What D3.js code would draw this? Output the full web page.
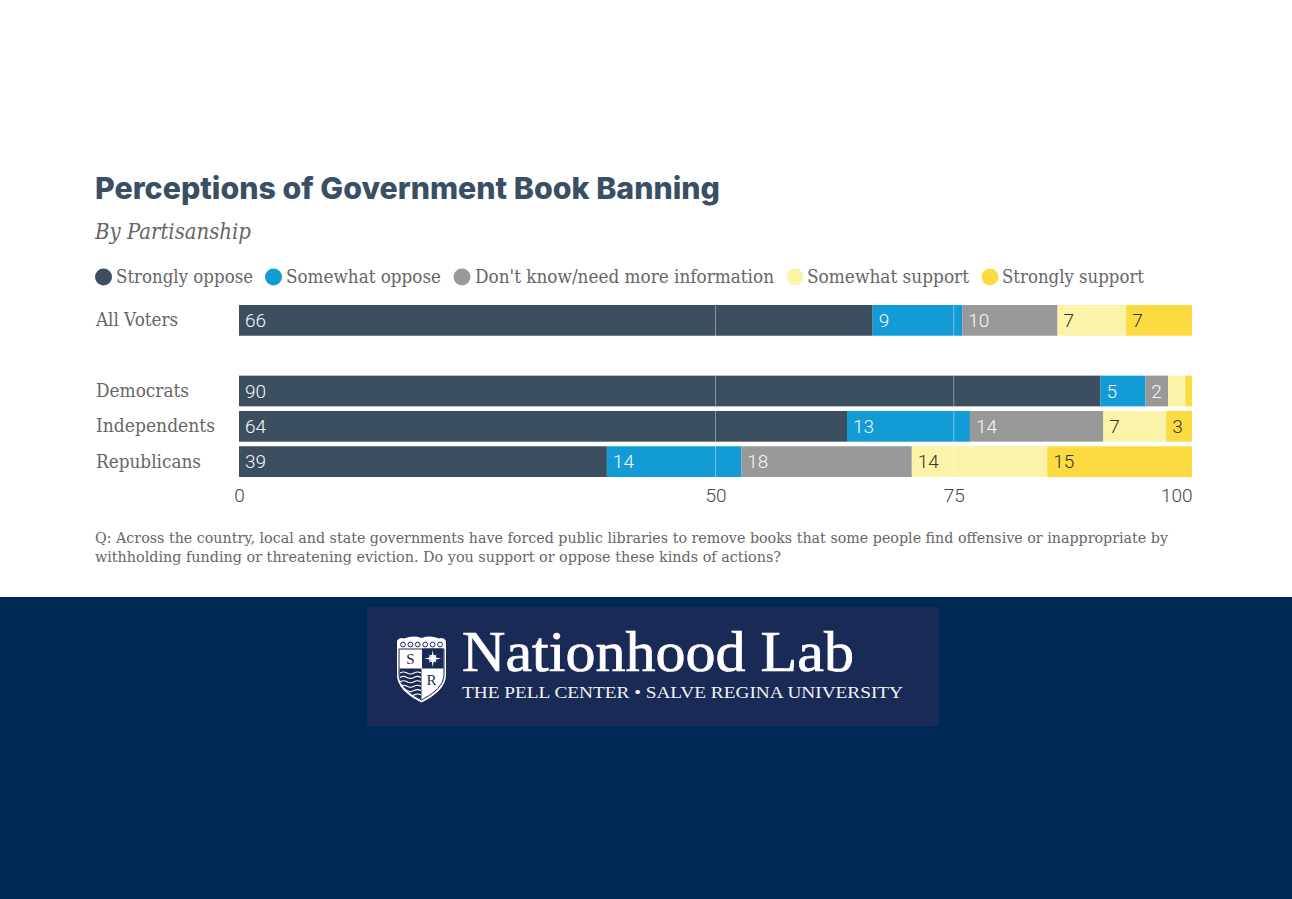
<!DOCTYPE html>
<html><head><meta charset="utf-8">
<script src="https://cdn.jsdelivr.net/npm/d3@7"></script>
<style>html,body{margin:0;padding:0;background:#fff;overflow:hidden}svg{display:block}</style>
</head><body><div id="chart"></div>
<script>
const categories = ["All Voters", "", "Democrats", "Independents", "Republicans"];
const seriesNames = ["Strongly oppose", "Somewhat oppose", "Don't know/need more information", "Somewhat support", "Strongly support"];
const stronglyOppose = [66.49, null, 90.4, 63.8, 38.6];
const somewhatOppose = [9.4, null, 4.7, 12.9, 14.1];
const dontKnow = [10.0, null, 2.4, 14.0, 17.9];
const somewhatSupport = [7.2, null, 1.8, 6.6, 14.2];
const stronglySupport = [6.91, null, 0.7, 2.7, 15.2];
const tickValues = [0, 50, 75, 100];
const titleText = "Perceptions of Government Book Banning";
const subtitleText = "By Partisanship";
const noteLines = ["Q: Across the country, local and state governments have forced public libraries to remove books that some people find offensive or inappropriate by",
  "withholding funding or threatening eviction. Do you support or oppose these kinds of actions?"];

const colors = ["#3b4f61", "#129bd5", "#999999", "#fbf3a7", "#fbdb40"];
const labelColors = ["#f7f7f7", "#f7f7f7", "#f7f7f7", "#333333", "#333333"];
const serifFont = "'DejaVu Serif', serif";
const W = 1292, H = 899;
const svg = d3.select("#chart").append("svg").attr("width", W).attr("height", H);

function fit(sel, width) { return sel.attr("textLength", width).attr("lengthAdjust", "spacingAndGlyphs"); }

// footer
svg.append("rect").attr("x", 0).attr("y", 597).attr("width", W).attr("height", H - 597).attr("fill", "#002855");

// heading
fit(svg.append("text").attr("x", 95).attr("y", 199).attr("font-family", "Inter, sans-serif").attr("font-weight", 800)
  .attr("font-size", 30).attr("fill", "#3a4f63").text(titleText), 625);
fit(svg.append("text").attr("x", 95).attr("y", 239).attr("font-family", serifFont).attr("font-style", "italic")
  .attr("font-size", 22).attr("fill", "#666").text(subtitleText), 156);

// legend
const legendLayout = [[103.5, 116, 137], [273.5, 286, 155], [462, 475, 299], [795, 807, 162], [990, 1002, 142]];
const legend = svg.append("g").selectAll("g").data(seriesNames).join("g");
legend.append("circle").attr("cx", (d, i) => legendLayout[i][0]).attr("cy", 277).attr("r", 8.5).attr("fill", (d, i) => colors[i]);
legend.append("text").attr("x", (d, i) => legendLayout[i][1]).attr("y", 283).attr("font-family", serifFont)
  .attr("font-size", 18.5).attr("fill", "#666").text(d => d)
  .attr("textLength", (d, i) => legendLayout[i][2]).attr("lengthAdjust", "spacingAndGlyphs");

// scales
const x = d3.scaleLinear().domain([0, 100]).range([239, 1192]);
const y = d3.scaleBand().domain(d3.range(categories.length)).range([305, 477]).paddingInner(0.13).paddingOuter(0);

const rows = categories.map((c, i) => ({ c, i, v: [stronglyOppose[i], somewhatOppose[i], dontKnow[i], somewhatSupport[i], stronglySupport[i]] }))
  .filter(r => r.c !== "");
const segs = rows.flatMap(r => {
  let acc = 0;
  return r.v.map((v, s) => { const o = { i: r.i, s, v, x0: acc, x1: acc + v }; acc += v; return o; });
});

svg.append("g").selectAll("rect").data(segs).join("rect")
  .attr("x", d => x(d.x0)).attr("width", d => x(d.x1) - x(d.x0))
  .attr("y", d => y(d.i)).attr("height", y.bandwidth()).attr("fill", d => colors[d.s]);

// gridlines over the bars
svg.append("g").selectAll("line").data(tickValues.slice(1, 3)).join("line")
  .attr("x1", d => x(d)).attr("x2", d => x(d)).attr("y1", 305).attr("y2", 477)
  .attr("stroke", "#fff").attr("stroke-opacity", 0.4).attr("stroke-width", 1);

// value labels
svg.append("g").selectAll("text").data(segs.filter(d => d.v >= 2)).join("text")
  .attr("x", d => x(d.x0) + 6).attr("y", d => y(d.i) + y.bandwidth() / 2 + 6.5)
  .attr("font-family", "Roboto, sans-serif").attr("font-weight", 300).attr("font-size", 19).attr("fill", d => labelColors[d.s])
  .text(d => d3.format(".0f")(d.v));

// category labels
svg.append("g").selectAll("text").data(rows).join("text")
  .attr("x", 96).attr("y", d => y(d.i) + y.bandwidth() / 2 + 6)
  .attr("font-family", serifFont).attr("font-size", 18.5).attr("fill", "#666").text(d => d.c)
  .attr("textLength", d => ({ "All Voters": 82, "Democrats": 93, "Independents": 119, "Republicans": 105 })[d.c])
  .attr("lengthAdjust", "spacingAndGlyphs");

// axis
const axis = svg.append("g").attr("transform", "translate(0,477)")
  .call(d3.axisBottom(x).tickValues(tickValues).tickSize(0).tickPadding(12));
axis.select(".domain").remove();
axis.selectAll("text").attr("font-family", "Roboto, sans-serif").attr("font-weight", 300).attr("font-size", 19).attr("fill", "#444")
  .attr("text-anchor", d => d === 100 ? "end" : "middle");

// note
const noteWidths = [1073, 686];
svg.append("g").selectAll("text").data(noteLines).join("text")
  .attr("x", 95).attr("y", (d, i) => 543 + i * 18.5).attr("font-family", serifFont)
  .attr("font-size", 15).attr("fill", "#666").text(d => d)
  .attr("textLength", (d, i) => noteWidths[i]).attr("lengthAdjust", "spacingAndGlyphs");

// logo
const logo = svg.append("g");
logo.append("rect").attr("x", 367).attr("y", 607).attr("width", 572).attr("height", 119).attr("fill", "#1a2a56");
fit(logo.append("text").attr("x", 462).attr("y", 670.5).attr("font-family", "'Liberation Serif', serif")
  .attr("font-size", 56).attr("fill", "#fff").attr("stroke", "#fff").attr("stroke-width", 0.7).text("Nationhood Lab"), 392);
fit(logo.append("text").attr("x", 462).attr("y", 698).attr("font-family", "'Liberation Serif', serif")
  .attr("font-size", 17).attr("fill", "#f2f2f2").text("THE PELL CENTER \u2022 SALVE REGINA UNIVERSITY"), 441);

// shield
const shieldPath = "M397,641 Q399,637 404,638.5 Q413,635 421.5,638 Q430,635 439,638.5 Q444,637 446,641 L446,676 Q445,691 421.5,702.5 Q398,691 397,676 Z";
svg.append("defs").append("clipPath").attr("id", "shield").append("path").attr("d", shieldPath);
const sh = logo.append("g");
sh.append("path").attr("d", shieldPath).attr("fill", "#fff");
const shq = sh.append("g").attr("clip-path", "url(#shield)");
shq.append("path").attr("d", "M399,649 H444 V676 Q443,689 421.5,700 Q400,689 399,676 Z").attr("fill", "#fff").attr("stroke", "#1a2a56").attr("stroke-width", 1);
shq.append("rect").attr("x", 422).attr("y", 648.5).attr("width", 21.5).attr("height", 20).attr("fill", "#1a2a56");
shq.append("path").attr("d", "M399.5,668.5 H421.5 V699.5 Q400.5,689 399.5,676 Z").attr("fill", "#1a2a56");
d3.range(6).forEach(k => {
  shq.append("circle").attr("cx", 403 + k * 7.4).attr("cy", 644.5).attr("r", 2.4).attr("fill", "none").attr("stroke", "#1a2a56").attr("stroke-width", 1);
});
d3.range(6).forEach(k => {
  const yy = 673 + k * 4.4;
  sh.append("path").attr("d", `M400,${yy} q3.5,-2 7,0 t7,0 t7,0`).attr("fill", "none").attr("stroke", "#fff").attr("stroke-width", 1.1)
    .attr("clip-path", "url(#shield)");
});
sh.append("text").attr("x", 410.5).attr("y", 664).attr("text-anchor", "middle").attr("font-family", "'Liberation Serif', serif")
  .attr("font-size", 15).attr("fill", "#1a2a56").text("S");
sh.append("text").attr("x", 431.5).attr("y", 685).attr("text-anchor", "middle").attr("font-family", "'Liberation Serif', serif")
  .attr("font-size", 15).attr("fill", "#1a2a56").text("R");
const star = sh.append("g").attr("transform", "translate(432.7,658.5)");
d3.range(8).forEach(k => star.append("path").attr("d", k % 2 ? "M-1,0 L0,-6 L1,0 Z" : "M-1.4,0 L0,-8.5 L1.4,0 Z")
  .attr("fill", "#fff").attr("transform", `rotate(${k * 45})`));
star.append("circle").attr("r", 3.4).attr("fill", "none").attr("stroke", "#fff").attr("stroke-width", 1);
</script></body></html>
